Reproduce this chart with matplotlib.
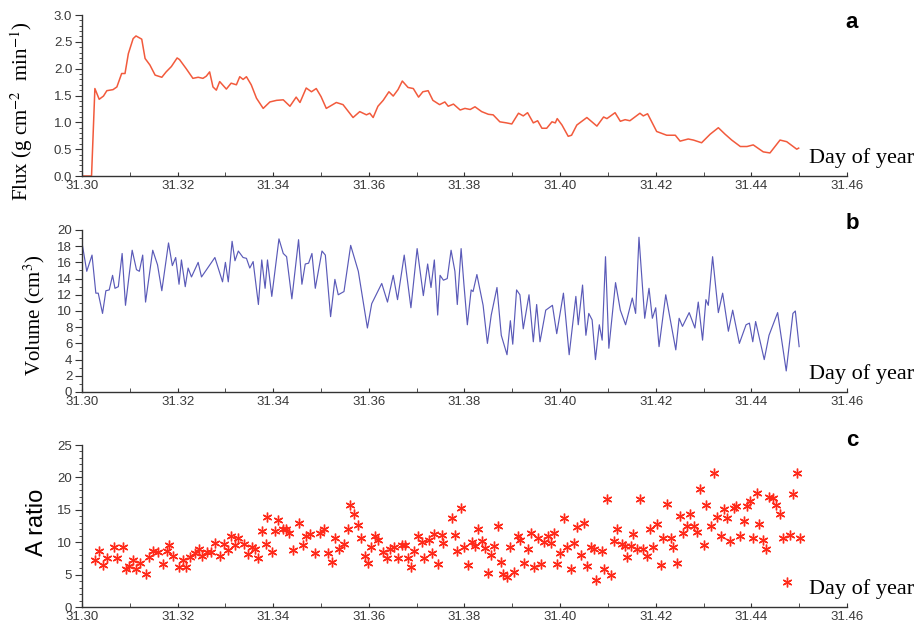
import matplotlib
matplotlib.use("Agg")
import matplotlib.pyplot as plt
from matplotlib.ticker import MultipleLocator, FormatStrFormatter

plt.rcParams["mathtext.fontset"] = "stix"

# Panel a: flux
flux_day = [31.3000, 31.3020, 31.3027, 31.3036, 31.3045, 31.3052, 31.3065, 31.3073,
            31.3083, 31.3090, 31.3097, 31.3107, 31.3113, 31.3125, 31.3132, 31.3142,
            31.3153, 31.3167, 31.3176, 31.3187, 31.3199, 31.3204, 31.3218, 31.3232,
            31.3243, 31.3253, 31.3260, 31.3267, 31.3274, 31.3281, 31.3288, 31.3302,
            31.3312, 31.3323, 31.3330, 31.3337, 31.3344, 31.3354, 31.3365, 31.3379,
            31.3393, 31.3407, 31.3421, 31.3435, 31.3448, 31.3456, 31.3469, 31.3480,
            31.3490, 31.3500, 31.3511, 31.3532, 31.3546, 31.3567, 31.3581, 31.3595,
            31.3602, 31.3609, 31.3619, 31.3630, 31.3642, 31.3651, 31.3661, 31.3670,
            31.3682, 31.3693, 31.3704, 31.3713, 31.3724, 31.3734, 31.3748, 31.3759,
            31.3766, 31.3777, 31.3791, 31.3801, 31.3812, 31.3822, 31.3836, 31.3850,
            31.3860, 31.3874, 31.3888, 31.3899, 31.3913, 31.3923, 31.3932, 31.3944,
            31.3953, 31.3962, 31.3972, 31.3983, 31.3990, 31.3994, 31.4004, 31.4017,
            31.4024, 31.4035, 31.4056, 31.4077, 31.4091, 31.4098, 31.4115, 31.4126,
            31.4136, 31.4146, 31.4167, 31.4174, 31.4183, 31.4202, 31.4223, 31.4241,
            31.4251, 31.4268, 31.4279, 31.4296, 31.4314, 31.4331, 31.4345, 31.4359,
            31.4377, 31.4391, 31.4404, 31.4425, 31.4439, 31.4460, 31.4474, 31.4495,
            31.4499]
flux_val = [0.00, 0.00, 1.63, 1.43, 1.49, 1.59, 1.61, 1.66,
            1.91, 1.91, 2.28, 2.56, 2.61, 2.55, 2.19, 2.07,
            1.88, 1.84, 1.94, 2.04, 2.20, 2.17, 2.00, 1.82,
            1.84, 1.82, 1.86, 1.94, 1.66, 1.60, 1.76, 1.62,
            1.73, 1.70, 1.85, 1.80, 1.85, 1.70, 1.45, 1.26,
            1.38, 1.41, 1.42, 1.30, 1.47, 1.37, 1.64, 1.57,
            1.63, 1.48, 1.26, 1.37, 1.33, 1.09, 1.20, 1.14,
            1.17, 1.09, 1.30, 1.41, 1.57, 1.49, 1.61, 1.77,
            1.65, 1.63, 1.47, 1.57, 1.59, 1.41, 1.33, 1.38,
            1.30, 1.34, 1.23, 1.26, 1.24, 1.29, 1.20, 1.15,
            1.14, 1.01, 0.99, 0.97, 1.17, 1.12, 1.18, 0.99,
            1.03, 0.89, 0.89, 1.01, 0.99, 1.07, 0.95, 0.74,
            0.76, 0.95, 1.09, 0.93, 1.10, 1.07, 1.18, 1.02,
            1.05, 1.03, 1.17, 1.12, 1.16, 0.83, 0.76, 0.76,
            0.65, 0.69, 0.67, 0.62, 0.78, 0.90, 0.78, 0.67,
            0.55, 0.55, 0.58, 0.45, 0.43, 0.67, 0.64, 0.50,
            0.52]

# Panel b: volume
vol_day = [31.2999, 31.3010, 31.3021, 31.3029, 31.3034, 31.3043, 31.3050, 31.3057,
           31.3064, 31.3069, 31.3076, 31.3084, 31.3091, 31.3105, 31.3114, 31.3120,
           31.3127, 31.3133, 31.3148, 31.3158, 31.3167, 31.3181, 31.3189, 31.3196,
           31.3203, 31.3208, 31.3216, 31.3222, 31.3229, 31.3243, 31.3250, 31.3278,
           31.3294, 31.3300, 31.3306, 31.3314, 31.3320, 31.3327, 31.3337, 31.3344,
           31.3351, 31.3358, 31.3369, 31.3376, 31.3383, 31.3388, 31.3397, 31.3412,
           31.3421, 31.3428, 31.3439, 31.3453, 31.3460, 31.3467, 31.3474, 31.3481,
           31.3488, 31.3502, 31.3509, 31.3520, 31.3529, 31.3536, 31.3548, 31.3562,
           31.3578, 31.3597, 31.3606, 31.3627, 31.3639, 31.3651, 31.3660, 31.3674,
           31.3688, 31.3701, 31.3714, 31.3723, 31.3730, 31.3737, 31.3744, 31.3749,
           31.3756, 31.3764, 31.3772, 31.3780, 31.3785, 31.3793, 31.3799, 31.3806,
           31.3814, 31.3818, 31.3826, 31.3839, 31.3848, 31.3856, 31.3868, 31.3877,
           31.3889, 31.3896, 31.3901, 31.3909, 31.3916, 31.3923, 31.3935, 31.3944,
           31.3951, 31.3958, 31.3970, 31.3984, 31.3993, 31.4007, 31.4019, 31.4033,
           31.4038, 31.4047, 31.4054, 31.4060, 31.4067, 31.4074, 31.4082, 31.4088,
           31.4095, 31.4102, 31.4116, 31.4126, 31.4137, 31.4151, 31.4158, 31.4165,
           31.4177, 31.4186, 31.4193, 31.4200, 31.4207, 31.4221, 31.4242, 31.4249,
           31.4256, 31.4270, 31.4282, 31.4289, 31.4298, 31.4305, 31.4310, 31.4319,
           31.4331, 31.4340, 31.4352, 31.4361, 31.4375, 31.4389, 31.4396, 31.4403,
           31.4409, 31.4427, 31.4437, 31.4455, 31.4473, 31.4487, 31.4492, 31.4500]
vol_val = [18.8, 14.9, 16.9, 12.2, 12.2, 9.7, 12.5, 12.6,
           14.4, 12.8, 13.0, 17.1, 10.7, 17.5, 15.1, 14.9,
           16.9, 11.1, 17.5, 15.7, 12.5, 18.4, 15.6, 16.6,
           13.3, 16.3, 13.0, 15.3, 14.2, 16.0, 14.2, 16.6,
           13.6, 16.0, 13.6, 18.6, 16.2, 17.4, 16.6, 16.5,
           15.3, 16.1, 10.8, 16.3, 12.8, 16.3, 11.8, 18.9,
           17.1, 16.7, 11.5, 18.8, 13.3, 15.8, 15.9, 17.1,
           12.8, 17.4, 16.9, 9.3, 13.9, 12.0, 12.4, 18.1,
           14.9, 7.9, 10.9, 13.4, 11.1, 14.4, 11.4, 16.9,
           10.4, 17.7, 11.9, 15.8, 12.9, 16.3, 9.5, 14.4,
           13.8, 14.0, 17.5, 14.9, 10.8, 17.7, 13.2, 8.3,
           12.6, 12.4, 14.5, 10.7, 6.0, 9.5, 12.9, 7.0,
           4.6, 8.8, 5.9, 12.6, 12.0, 7.8, 12.0, 6.2,
           10.8, 6.2, 10.1, 10.7, 7.2, 12.2, 4.6, 11.8,
           8.3, 13.2, 7.0, 9.7, 8.9, 4.0, 8.3, 6.4,
           16.7, 5.4, 13.5, 10.1, 8.3, 11.6, 9.7, 19.1,
           9.1, 12.8, 9.1, 10.4, 5.6, 12.0, 5.2, 9.1,
           8.1, 9.8, 7.9, 11.1, 6.4, 11.4, 10.7, 16.7,
           9.8, 12.2, 7.5, 10.1, 6.0, 8.3, 8.5, 6.2,
           8.7, 4.0, 7.0, 9.8, 2.6, 9.7, 10.0, 5.6]

# Panel c: A ratio
ratio_day = [31.3027, 31.3036, 31.3045, 31.3053, 31.3066, 31.3074, 31.3085, 31.3092,
             31.3099, 31.3107, 31.3114, 31.3121, 31.3133, 31.3140, 31.3148, 31.3158,
             31.3169, 31.3177, 31.3183, 31.3191, 31.3202, 31.3211, 31.3218, 31.3226,
             31.3236, 31.3245, 31.3252, 31.3262, 31.3269, 31.3278, 31.3289, 31.3297,
             31.3306, 31.3311, 31.3320, 31.3327, 31.3338, 31.3348, 31.3355, 31.3362,
             31.3369, 31.3376, 31.3384, 31.3388, 31.3397, 31.3404, 31.3411, 31.3420,
             31.3427, 31.3434, 31.3441, 31.3453, 31.3462, 31.3469, 31.3477, 31.3487,
             31.3497, 31.3506, 31.3515, 31.3522, 31.3529, 31.3538, 31.3548, 31.3557,
             31.3561, 31.3570, 31.3578, 31.3583, 31.3592, 31.3598, 31.3604, 31.3613,
             31.3620, 31.3629, 31.3637, 31.3644, 31.3653, 31.3660, 31.3669, 31.3676,
             31.3681, 31.3688, 31.3695, 31.3702, 31.3711, 31.3715, 31.3725, 31.3732,
             31.3737, 31.3745, 31.3752, 31.3756, 31.3773, 31.3780, 31.3784, 31.3792,
             31.3798, 31.3808, 31.3815, 31.3822, 31.3829, 31.3836, 31.3843, 31.3850,
             31.3855, 31.3862, 31.3871, 31.3876, 31.3881, 31.3888, 31.3895, 31.3904,
             31.3911, 31.3916, 31.3925, 31.3932, 31.3939, 31.3946, 31.3953, 31.3960,
             31.3967, 31.3974, 31.3980, 31.3987, 31.3993, 31.4000, 31.4008, 31.4014,
             31.4022, 31.4029, 31.4035, 31.4043, 31.4050, 31.4056, 31.4064, 31.4071,
             31.4075, 31.4087, 31.4091, 31.4098, 31.4106, 31.4112, 31.4119, 31.4129,
             31.4136, 31.4141, 31.4148, 31.4153, 31.4160, 31.4167, 31.4174, 31.4181,
             31.4188, 31.4195, 31.4202, 31.4211, 31.4216, 31.4223, 31.4232, 31.4237,
             31.4244, 31.4250, 31.4258, 31.4265, 31.4272, 31.4280, 31.4286, 31.4293,
             31.4300, 31.4305, 31.4315, 31.4322, 31.4328, 31.4336, 31.4343, 31.4349,
             31.4356, 31.4363, 31.4368, 31.4377, 31.4384, 31.4391, 31.4398, 31.4404,
             31.4411, 31.4417, 31.4424, 31.4431, 31.4438, 31.4445, 31.4452, 31.4459,
             31.4467, 31.4474, 31.4481, 31.4487, 31.4495, 31.4501]
ratio_val = [7.3, 8.7, 6.5, 7.6, 9.3, 7.6, 9.2, 5.8,
             6.3, 7.3, 5.9, 6.8, 5.1, 7.7, 8.7, 8.5,
             6.7, 8.7, 9.5, 7.8, 6.2, 7.3, 6.2, 7.7,
             8.4, 8.9, 7.8, 8.5, 8.5, 9.9, 7.8, 9.7,
             8.8, 11.0, 9.6, 10.6, 9.7, 8.2, 9.3, 9.0,
             7.5, 11.8, 9.8, 13.9, 8.5, 11.8, 13.5, 12.1,
             12.1, 11.4, 8.8, 12.9, 9.6, 10.9, 11.2, 8.3,
             11.4, 12.1, 8.3, 7.0, 10.6, 9.0, 9.8, 12.1,
             15.7, 14.4, 12.7, 10.7, 7.8, 6.8, 9.3, 10.9,
             10.4, 8.5, 7.5, 9.0, 9.3, 7.5, 9.6, 9.6,
             7.5, 6.2, 8.7, 10.9, 10.1, 7.5, 10.4, 8.3,
             11.2, 6.7, 11.1, 9.9, 13.8, 11.1, 8.6, 15.3,
             9.2, 6.5, 10.0, 9.4, 12.1, 10.2, 9.1, 5.2,
             8.0, 9.4, 12.5, 7.0, 5.1, 4.6, 9.3, 5.4,
             10.9, 10.3, 6.8, 9.0, 11.4, 6.2, 10.6, 6.7,
             10.1, 10.9, 9.9, 11.4, 6.6, 8.3, 13.7, 9.2,
             5.8, 9.9, 12.4, 8.0, 12.9, 6.3, 9.3, 8.9,
             4.2, 8.6, 5.8, 16.6, 5.0, 10.2, 12.0, 9.7,
             9.4, 7.7, 9.4, 11.2, 8.9, 16.6, 8.9, 7.8,
             12.1, 9.3, 12.8, 6.5, 10.6, 15.9, 10.7, 9.2,
             6.8, 14.1, 11.4, 12.5, 14.4, 12.5, 11.6, 18.2,
             9.6, 15.7, 12.5, 20.7, 13.9, 10.9, 15.1, 13.8,
             10.2, 15.3, 15.6, 11.0, 13.2, 15.6, 16.4, 10.6,
             17.6, 12.8, 10.4, 8.9, 17.0, 16.8, 15.7, 14.4,
             10.6, 3.9, 11.1, 17.4, 20.7, 10.6]

x_ticks = [31.30, 31.32, 31.34, 31.36, 31.38, 31.40, 31.42, 31.44, 31.46]

fig = plt.figure(figsize=(9.19, 6.28), dpi=100)
ax_a = fig.add_axes([0.0892, 0.7197, 0.8324, 0.2564])
ax_b = fig.add_axes([0.0892, 0.3758, 0.8324, 0.2580])
ax_c = fig.add_axes([0.0892, 0.0334, 0.8324, 0.2580])

ax_a.plot(flux_day, flux_val, color="#f25a3c", lw=1.1)
ax_b.plot(vol_day, vol_val, color="#5a5ab8", lw=0.85)
ax_c.plot(ratio_day, ratio_val, ls="none", marker=(6, 2, 0), ms=7,
          mec="#ff2a1a", mfc="#ff2a1a", mew=1.0)


def style_axis(ax, ymax, major, minor):
    ax.set_xlim(31.30, 31.46)
    ax.set_ylim(0, ymax)
    for s in ["top", "right"]:
        ax.spines[s].set_visible(False)
    for s in ["left", "bottom"]:
        ax.spines[s].set_color("#333333")
        ax.spines[s].set_linewidth(1.0)
    ax.set_xticks(x_ticks)
    ax.set_xticklabels(["%.2f" % t for t in x_ticks])
    ax.xaxis.set_minor_locator(MultipleLocator(0.01))
    ax.yaxis.set_major_locator(MultipleLocator(major))
    ax.yaxis.set_minor_locator(MultipleLocator(minor))
    ax.tick_params(axis="x", which="both", direction="in", length=3,
                   color="#333333", pad=3)
    ax.tick_params(axis="y", which="major", direction="out", length=5,
                   color="#333333", pad=2)
    ax.tick_params(axis="y", which="minor", direction="out", length=2.5,
                   color="#333333")
    ax.tick_params(which="major", labelsize=9.5, labelcolor="#3a3a3a")
    for lab in ax.get_xticklabels() + ax.get_yticklabels():
        lab.set_fontfamily("Liberation Sans")
    # "Day of year" sits at the right end of each x axis, partly cut by the edge
    ax.text(31.4521, ymax * 0.05, "Day of year", fontsize=16,
            family="Liberation Serif", ha="left", va="bottom", clip_on=False)


style_axis(ax_a, 3.0, 0.5, 0.1)
ax_a.yaxis.set_major_formatter(FormatStrFormatter("%.1f"))
style_axis(ax_b, 20, 2, 1)
style_axis(ax_c, 25, 5, 1)

ax_a.set_ylabel("Flux (g cm$^{-2}$  min$^{-1}$)", fontsize=15,
                family="Liberation Serif")
ax_a.yaxis.set_label_coords(-0.062, 0.40)
ax_b.set_ylabel("Volume (cm$^{3}$)", fontsize=15, family="Liberation Serif")
ax_b.yaxis.set_label_coords(-0.046, 0.475)
ax_c.set_ylabel("A ratio", fontsize=17, family="Liberation Sans")
ax_c.yaxis.set_label_coords(-0.045, 0.525)

# panel letters
for letter, ypx in [("a", 22), ("b", 224), ("c", 440)]:
    fig.text(852 / 919, 1 - ypx / 628, letter, fontsize=16, fontweight="bold",
             family="Liberation Sans", ha="center", va="center")

fig.savefig("out.png", dpi=100)
